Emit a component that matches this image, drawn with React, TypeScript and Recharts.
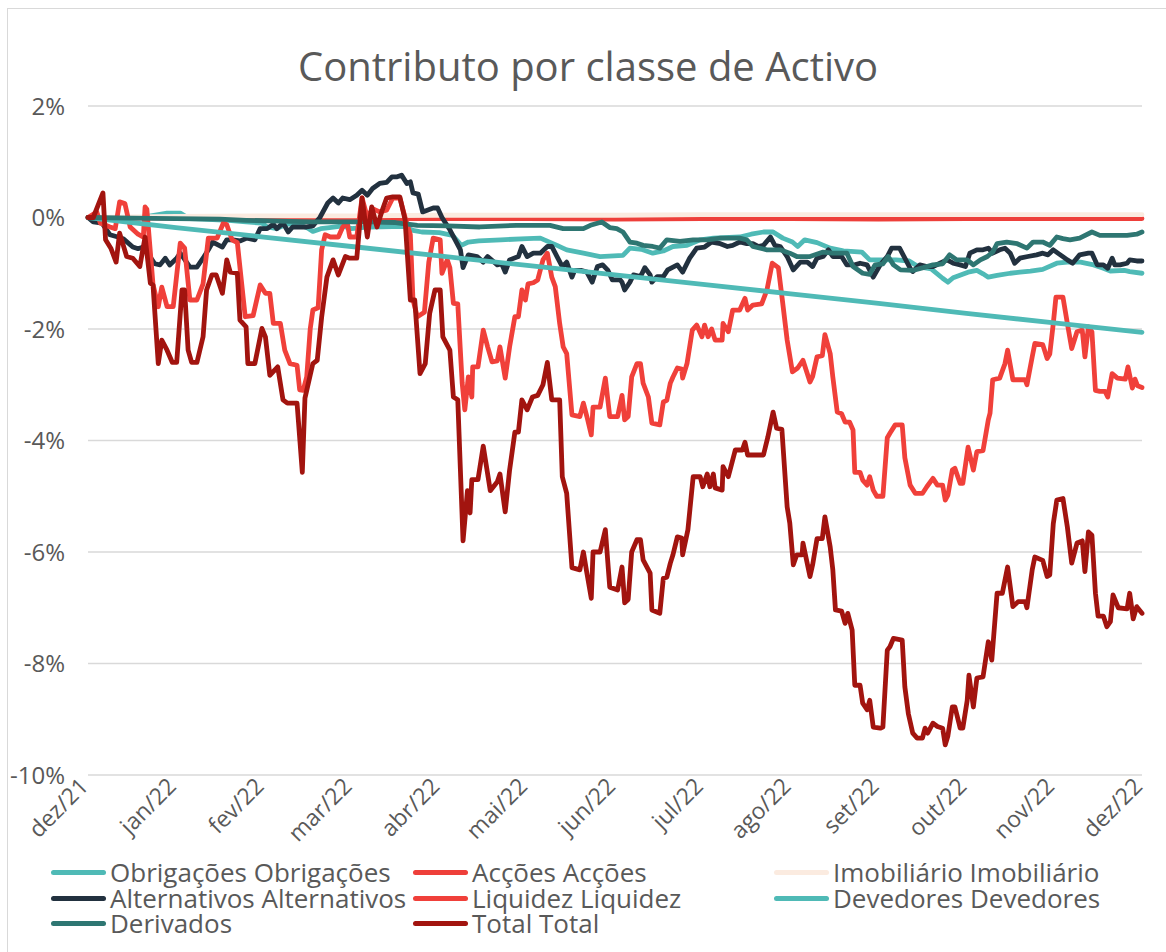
import { LineChart, Line, XAxis, YAxis, CartesianGrid } from "recharts";

// x = months since end of Dec 2021, y = contribution in %
const monthLabels = ["dez/21", "jan/22", "fev/22", "mar/22", "abr/22", "mai/22", "jun/22", "jul/22", "ago/22", "set/22", "out/22", "nov/22", "dez/22"];
const monthTicks = [0, 1, 2, 3, 4, 5, 6, 7, 8, 9, 10, 11, 12];
const yTicks = [-10, -8, -6, -4, -2, 0, 2];

const obrigacoes: [number, number][] = [
  [0, 0], [0.1, -0.02], [0.3, -0.03], [0.6, 0], [0.9, 0.08], [1.05, 0.08], [1.15, -0.02], [1.3, -0.03], [1.6, -0.05], [1.8, -0.08],
  [1.98, -0.1], [2.04, -0.17], [2.15, -0.2], [2.26, -0.12], [2.4, -0.12], [2.5, -0.19], [2.56, -0.25], [2.65, -0.2], [2.75, -0.18], [2.9, -0.15],
  [3.0, -0.2], [3.2, -0.17], [3.6, -0.16], [3.7, -0.23], [3.8, -0.26], [4.0, -0.27], [4.15, -0.32], [4.25, -0.5], [4.33, -0.44], [4.45, -0.42],
  [4.7, -0.4], [5.0, -0.38], [5.15, -0.37], [5.34, -0.5], [5.45, -0.58], [5.64, -0.64], [5.83, -0.7], [6.09, -0.68], [6.17, -0.55], [6.3, -0.57],
  [6.43, -0.64], [6.55, -0.6], [6.66, -0.52], [6.82, -0.5], [6.97, -0.4], [7.12, -0.37], [7.42, -0.35], [7.55, -0.3], [7.69, -0.26], [7.8, -0.26],
  [7.91, -0.37], [8.02, -0.44], [8.08, -0.52], [8.16, -0.4], [8.3, -0.45], [8.45, -0.55], [8.6, -0.6], [8.81, -0.62], [8.9, -0.76], [9.2, -0.76],
  [9.35, -0.78], [9.45, -0.88], [9.6, -0.92], [9.73, -1.09], [9.79, -1.16], [9.85, -1.08], [10.02, -0.98], [10.12, -0.95], [10.19, -1.01], [10.25, -1.07],
  [10.35, -1.04], [10.5, -1.0], [10.61, -0.98], [10.73, -0.96], [10.87, -0.93], [11.03, -0.82], [11.15, -0.8], [11.3, -0.8], [11.45, -0.85], [11.56, -0.91],
  [11.64, -0.96], [11.8, -0.95], [11.86, -0.97], [12, -1.0],
];

const accoes: [number, number][] = [
  [0, 0], [1, -0.01], [2, -0.01], [3, -0.02], [4, -0.02], [5, -0.02], [6, -0.03], [7, -0.02], [8, -0.02], [9, -0.03], [10, -0.02], [11, -0.02], [12, -0.02],
];

const imobiliario: [number, number][] = [
  [0, 0], [1, 0.02], [2, 0.03], [3, 0.03], [4, 0.04], [5, 0.04], [6, 0.04], [7, 0.05], [8, 0.05], [9, 0.05], [10, 0.05], [11, 0.05], [12, 0.05],
];

const alternativos: [number, number][] = [
  [0, 0], [0.06, -0.08], [0.16, -0.1], [0.25, -0.31], [0.34, -0.35], [0.4, -0.38], [0.51, -0.53], [0.57, -0.56], [0.63, -0.53], [0.68, -0.64],
  [0.76, -0.83], [0.82, -0.85], [0.88, -0.73], [0.93, -0.85], [1.01, -0.73], [1.05, -0.64], [1.1, -0.75], [1.16, -0.89], [1.24, -0.89], [1.31, -0.73],
  [1.37, -0.58], [1.42, -0.44], [1.53, -0.53], [1.58, -0.4], [1.65, -0.4], [1.73, -0.42], [1.81, -0.37], [1.9, -0.4], [1.96, -0.2], [2.04, -0.2],
  [2.11, -0.12], [2.15, -0.2], [2.22, -0.1], [2.28, -0.26], [2.33, -0.17], [2.49, -0.17], [2.56, -0.15], [2.64, 0], [2.73, 0.26], [2.79, 0.35],
  [2.85, 0.26], [2.9, 0.35], [2.98, 0.32], [3.06, 0.4], [3.12, 0.49], [3.18, 0.4], [3.24, 0.52], [3.32, 0.61], [3.4, 0.63], [3.46, 0.73],
  [3.52, 0.73], [3.57, 0.76], [3.63, 0.61], [3.67, 0.64], [3.7, 0.44], [3.76, 0.42], [3.81, 0.1], [3.93, 0.17], [3.98, 0.17], [4.03, 0],
  [4.12, -0.22], [4.18, -0.4], [4.24, -0.58], [4.27, -0.9], [4.33, -0.67], [4.43, -0.7], [4.5, -0.8], [4.55, -0.7], [4.66, -0.85], [4.71, -0.83],
  [4.75, -0.98], [4.8, -0.76], [4.9, -0.7], [4.94, -0.52], [5.0, -0.7], [5.07, -0.64], [5.15, -0.64], [5.23, -0.52], [5.28, -0.52], [5.34, -0.7],
  [5.4, -0.88], [5.45, -0.8], [5.51, -1.07], [5.54, -0.95], [5.62, -0.95], [5.68, -0.98], [5.74, -1.16], [5.8, -0.88], [5.86, -0.85], [5.92, -0.95],
  [5.97, -1.12], [6.06, -1.12], [6.08, -1.16], [6.11, -1.3], [6.17, -1.16], [6.21, -1.03], [6.29, -1.06], [6.34, -0.9], [6.4, -1.03], [6.42, -1.16],
  [6.48, -1.06], [6.55, -1.06], [6.6, -0.94], [6.71, -0.85], [6.77, -0.98], [6.85, -0.73], [6.93, -0.55], [7.02, -0.53], [7.1, -0.44], [7.2, -0.47],
  [7.28, -0.52], [7.34, -0.5], [7.42, -0.44], [7.5, -0.47], [7.57, -0.47], [7.63, -0.52], [7.69, -0.5], [7.77, -0.35], [7.82, -0.5], [7.88, -0.52],
  [7.96, -0.7], [8.03, -0.94], [8.11, -0.8], [8.19, -0.8], [8.25, -0.88], [8.3, -0.73], [8.37, -0.7], [8.43, -0.58], [8.48, -0.7], [8.58, -0.7],
  [8.64, -0.85], [8.73, -0.85], [8.79, -0.82], [8.87, -0.85], [8.94, -1.07], [9.02, -0.85], [9.1, -0.7], [9.15, -0.55], [9.24, -0.55], [9.3, -0.73],
  [9.36, -0.91], [9.39, -0.97], [9.47, -0.85], [9.55, -0.88], [9.62, -0.88], [9.7, -0.82], [9.78, -0.76], [9.85, -0.82], [9.93, -0.85], [9.99, -0.88],
  [10.04, -0.64], [10.12, -0.58], [10.19, -0.58], [10.25, -0.55], [10.3, -0.64], [10.38, -0.58], [10.44, -0.55], [10.5, -0.64], [10.55, -0.82], [10.61, -0.73],
  [10.7, -0.7], [10.8, -0.67], [10.87, -0.64], [10.93, -0.67], [10.99, -0.58], [11.07, -0.67], [11.15, -0.76], [11.21, -0.82], [11.29, -0.67], [11.39, -0.64],
  [11.43, -0.64], [11.49, -0.85], [11.56, -0.85], [11.61, -0.91], [11.66, -0.73], [11.69, -0.85], [11.75, -0.85], [11.83, -0.82], [11.86, -0.76], [11.94, -0.78],
  [12, -0.78],
];

const liquidez: [number, number][] = [
  [0, 0], [0.1, 0.1], [0.14, -0.1], [0.25, -0.17], [0.31, -0.2], [0.36, 0.28], [0.42, 0.25], [0.48, -0.17], [0.57, -0.3], [0.63, -0.35],
  [0.65, 0.19], [0.67, 0.15], [0.74, -1.2], [0.8, -1.6], [0.84, -1.25], [0.9, -1.6], [0.97, -1.6], [1.05, -0.46], [1.1, -0.55], [1.16, -1.48],
  [1.24, -1.48], [1.31, -1.19], [1.37, -0.37], [1.47, -0.37], [1.54, -0.1], [1.58, -0.13], [1.64, -0.4], [1.7, -0.45], [1.75, -1.19], [1.79, -1.78],
  [1.88, -1.76], [1.96, -1.21], [2.02, -1.36], [2.07, -1.36], [2.11, -1.9], [2.19, -1.9], [2.24, -2.38], [2.3, -2.62], [2.38, -2.65], [2.41, -3.09],
  [2.45, -3.1], [2.49, -2.86], [2.53, -2.0], [2.56, -1.66], [2.62, -1.62], [2.66, -0.58], [2.7, -0.31], [2.76, -0.35], [2.85, -0.35], [2.9, -0.17],
  [2.95, -0.08], [2.98, -0.35], [3.06, -0.35], [3.12, 0.35], [3.18, 0], [3.24, 0.16], [3.32, 0.1], [3.4, 0.13], [3.47, 0.35], [3.55, 0.35],
  [3.61, 0], [3.67, -0.31], [3.7, -1.48], [3.75, -1.78], [3.83, -1.7], [3.88, -0.8], [3.93, -0.37], [4.01, -0.4], [4.03, -1.0], [4.09, -0.76],
  [4.12, -0.9], [4.16, -1.54], [4.21, -1.55], [4.26, -2.97], [4.29, -3.45], [4.33, -2.86], [4.37, -3.22], [4.38, -2.68], [4.44, -2.68], [4.5, -2.02],
  [4.55, -2.32], [4.6, -2.59], [4.66, -2.57], [4.69, -2.32], [4.75, -2.88], [4.8, -2.32], [4.86, -1.78], [4.9, -1.78], [4.94, -1.3], [4.98, -1.48],
  [5.01, -1.19], [5.07, -1.17], [5.12, -1.12], [5.18, -0.76], [5.23, -0.64], [5.28, -1.07], [5.32, -1.24], [5.37, -1.9], [5.41, -2.32], [5.45, -2.44],
  [5.51, -3.54], [5.6, -3.57], [5.64, -3.33], [5.68, -3.57], [5.73, -3.9], [5.75, -3.4], [5.83, -3.4], [5.89, -2.88], [5.94, -3.57], [6.03, -3.57],
  [6.08, -3.19], [6.11, -3.63], [6.15, -3.57], [6.19, -2.86], [6.25, -2.62], [6.29, -2.62], [6.32, -2.97], [6.38, -3.22], [6.42, -3.69], [6.51, -3.72],
  [6.55, -3.31], [6.59, -3.28], [6.63, -2.97], [6.66, -2.86], [6.71, -2.7], [6.76, -2.72], [6.77, -2.88], [6.82, -2.62], [6.88, -2.02], [6.93, -1.93],
  [6.99, -2.14], [7.02, -1.93], [7.06, -2.14], [7.1, -2.0], [7.14, -2.2], [7.22, -2.2], [7.23, -1.9], [7.29, -2.05], [7.34, -1.66], [7.42, -1.66],
  [7.48, -1.45], [7.51, -1.66], [7.57, -1.57], [7.67, -1.55], [7.73, -1.3], [7.79, -0.82], [7.86, -0.9], [7.91, -1.54], [7.96, -2.2], [8.02, -2.77],
  [8.08, -2.7], [8.14, -2.56], [8.22, -2.95], [8.25, -2.85], [8.3, -2.5], [8.36, -2.48], [8.39, -2.1], [8.45, -2.44], [8.48, -2.86], [8.53, -3.49],
  [8.58, -3.52], [8.62, -3.67], [8.67, -3.67], [8.71, -3.81], [8.73, -4.57], [8.79, -4.57], [8.82, -4.71], [8.87, -4.8], [8.9, -4.65], [8.94, -4.89],
  [8.98, -5.0], [9.05, -5.0], [9.1, -3.95], [9.13, -3.87], [9.19, -3.72], [9.27, -3.72], [9.3, -4.31], [9.36, -4.8], [9.42, -4.95], [9.5, -4.95],
  [9.55, -4.83], [9.62, -4.68], [9.67, -4.8], [9.73, -4.8], [9.76, -5.07], [9.79, -4.98], [9.84, -4.53], [9.87, -4.5], [9.93, -4.77], [9.96, -4.77],
  [10.02, -4.12], [10.08, -4.53], [10.12, -4.2], [10.19, -4.18], [10.25, -3.63], [10.27, -3.51], [10.3, -2.91], [10.38, -2.88], [10.44, -2.62], [10.47, -2.38],
  [10.53, -2.91], [10.67, -2.91], [10.69, -3.0], [10.75, -2.5], [10.78, -2.26], [10.87, -2.28], [10.92, -2.53], [10.95, -2.45], [10.99, -1.9], [11.02, -1.43],
  [11.1, -1.43], [11.15, -1.9], [11.2, -2.35], [11.26, -2.05], [11.32, -2.02], [11.35, -2.5], [11.39, -1.96], [11.43, -2.05], [11.47, -3.1], [11.52, -3.12],
  [11.58, -3.12], [11.61, -3.22], [11.66, -2.8], [11.72, -2.88], [11.81, -2.9], [11.84, -2.68], [11.89, -3.06], [11.92, -2.9], [11.95, -3.02], [12, -3.05],
];

const devedores: [number, number][] = [
  [0, 0], [1, -0.18], [2, -0.35], [3, -0.52], [4, -0.69], [5, -0.86], [6, -1.03], [7, -1.2], [8, -1.37], [9, -1.54], [10, -1.72], [11, -1.89], [12, -2.06],
];

const derivados: [number, number][] = [
  [0, 0], [0.5, -0.01], [1, -0.02], [1.5, -0.03], [1.8, -0.05], [2.3, -0.07], [2.56, -0.08], [3.0, -0.08], [3.5, -0.09], [3.75, -0.14],
  [4.09, -0.15], [4.46, -0.17], [4.88, -0.14], [5.26, -0.14], [5.41, -0.2], [5.64, -0.2], [5.72, -0.14], [5.85, -0.08], [5.94, -0.18], [6.02, -0.2],
  [6.09, -0.26], [6.17, -0.44], [6.25, -0.46], [6.32, -0.5], [6.43, -0.52], [6.51, -0.55], [6.59, -0.4], [6.74, -0.43], [6.89, -0.4], [7.05, -0.4],
  [7.2, -0.37], [7.42, -0.37], [7.5, -0.4], [7.57, -0.52], [7.73, -0.58], [7.88, -0.58], [7.99, -0.64], [8.07, -0.7], [8.22, -0.7], [8.37, -0.62],
  [8.48, -0.64], [8.64, -0.64], [8.71, -0.88], [8.82, -1.0], [8.9, -1.02], [8.96, -0.85], [9.05, -0.83], [9.11, -0.7], [9.17, -0.85], [9.25, -0.94],
  [9.39, -0.95], [9.51, -0.9], [9.62, -0.85], [9.73, -0.83], [9.81, -0.67], [9.89, -0.76], [10.01, -0.76], [10.08, -0.85], [10.16, -0.76], [10.24, -0.7],
  [10.3, -0.62], [10.35, -0.47], [10.46, -0.44], [10.58, -0.47], [10.69, -0.55], [10.76, -0.44], [10.87, -0.44], [10.95, -0.5], [11.03, -0.35], [11.1, -0.38],
  [11.18, -0.4], [11.29, -0.37], [11.43, -0.26], [11.52, -0.32], [11.67, -0.32], [11.83, -0.32], [11.94, -0.3], [12, -0.26],
];

const total: [number, number][] = [
  [0, 0], [0.06, 0], [0.17, 0.44], [0.2, -0.4], [0.26, -0.55], [0.32, -0.8], [0.36, -0.28], [0.44, -0.7], [0.51, -0.73], [0.59, -0.88],
  [0.65, -0.35], [0.71, -1.18], [0.74, -1.21], [0.8, -2.62], [0.84, -2.2], [0.9, -2.38], [0.96, -2.6], [1.01, -2.6], [1.07, -1.3], [1.1, -1.3],
  [1.14, -2.38], [1.18, -2.6], [1.24, -2.6], [1.31, -2.14], [1.35, -1.3], [1.41, -1.03], [1.46, -1.03], [1.53, -1.36], [1.58, -0.76], [1.62, -0.98],
  [1.7, -1.0], [1.73, -1.84], [1.8, -1.96], [1.82, -2.62], [1.9, -2.62], [1.98, -1.99], [2.02, -2.14], [2.07, -2.83], [2.16, -2.68], [2.22, -3.27],
  [2.27, -3.33], [2.38, -3.33], [2.44, -4.57], [2.47, -3.24], [2.56, -2.62], [2.61, -2.56], [2.66, -1.79], [2.72, -1.07], [2.79, -0.76], [2.85, -1.03],
  [2.93, -0.7], [2.98, -0.73], [3.06, -0.73], [3.12, 0.35], [3.18, -0.35], [3.23, 0.19], [3.29, -0.17], [3.35, 0.13], [3.4, 0.35], [3.47, 0.37],
  [3.55, 0.37], [3.61, -0.04], [3.67, -1.48], [3.72, -1.48], [3.78, -2.8], [3.84, -2.62], [3.89, -1.72], [3.95, -1.3], [4.01, -1.3], [4.04, -2.14],
  [4.12, -2.38], [4.16, -3.22], [4.21, -3.27], [4.27, -5.8], [4.32, -4.9], [4.35, -5.3], [4.37, -4.7], [4.44, -4.7], [4.5, -4.1], [4.58, -4.9],
  [4.66, -4.74], [4.69, -4.6], [4.75, -5.28], [4.8, -4.53], [4.86, -3.85], [4.9, -3.85], [4.94, -3.27], [5.0, -3.45], [5.06, -3.22], [5.12, -3.19],
  [5.18, -3.0], [5.23, -2.6], [5.28, -3.27], [5.37, -3.27], [5.4, -4.65], [5.45, -4.95], [5.51, -6.28], [5.6, -6.32], [5.64, -6.0], [5.68, -6.38],
  [5.73, -6.83], [5.75, -6.0], [5.83, -6.0], [5.89, -5.6], [5.94, -6.63], [6.03, -6.68], [6.08, -6.27], [6.11, -6.91], [6.15, -6.85], [6.19, -6.0],
  [6.25, -5.78], [6.29, -5.78], [6.32, -6.14], [6.4, -6.38], [6.42, -7.04], [6.51, -7.1], [6.55, -6.47], [6.59, -6.45], [6.63, -6.2], [6.66, -6.05],
  [6.71, -5.73], [6.76, -5.75], [6.77, -6.05], [6.83, -5.6], [6.89, -4.65], [6.97, -4.65], [7.0, -4.83], [7.05, -4.6], [7.08, -4.83], [7.12, -4.6],
  [7.14, -4.85], [7.22, -4.89], [7.23, -4.47], [7.29, -4.65], [7.37, -4.17], [7.45, -4.17], [7.48, -4.03], [7.51, -4.26], [7.69, -4.26], [7.74, -3.94],
  [7.8, -3.49], [7.84, -3.78], [7.9, -3.8], [7.96, -5.19], [7.99, -5.48], [8.03, -6.23], [8.07, -6.05], [8.13, -6.05], [8.14, -5.84], [8.22, -6.44],
  [8.25, -6.23], [8.3, -5.76], [8.36, -5.76], [8.39, -5.37], [8.45, -5.91], [8.48, -6.32], [8.51, -7.04], [8.58, -7.06], [8.62, -7.28], [8.65, -7.1],
  [8.7, -7.4], [8.73, -8.39], [8.79, -8.39], [8.82, -8.71], [8.87, -8.83], [8.9, -8.66], [8.94, -9.14], [9.02, -9.16], [9.05, -9.14], [9.1, -7.76],
  [9.13, -7.7], [9.17, -7.55], [9.27, -7.58], [9.3, -8.42], [9.34, -8.9], [9.39, -9.25], [9.44, -9.34], [9.5, -9.34], [9.53, -9.16], [9.56, -9.25],
  [9.62, -9.07], [9.67, -9.13], [9.73, -9.16], [9.76, -9.46], [9.79, -9.3], [9.84, -8.78], [9.87, -8.78], [9.93, -9.16], [9.96, -9.16], [10.01, -8.66],
  [10.03, -8.21], [10.08, -8.78], [10.12, -8.26], [10.19, -8.24], [10.25, -7.61], [10.29, -7.94], [10.35, -6.74], [10.41, -6.74], [10.47, -6.27], [10.53, -6.98],
  [10.59, -6.89], [10.67, -6.89], [10.69, -7.0], [10.75, -6.32], [10.78, -6.09], [10.87, -6.15], [10.92, -6.44], [10.95, -6.41], [10.99, -5.49], [11.03, -5.07],
  [11.1, -5.04], [11.15, -5.55], [11.2, -6.2], [11.26, -5.84], [11.32, -5.8], [11.35, -6.35], [11.39, -5.64], [11.43, -5.7], [11.47, -6.74], [11.5, -7.15],
  [11.56, -7.15], [11.6, -7.34], [11.64, -7.25], [11.67, -6.77], [11.73, -7.0], [11.83, -7.02], [11.86, -6.74], [11.9, -7.2], [11.94, -6.98], [12, -7.1],
];

const series = [
  { key: "obrigacoes", name: "Obrigações Obrigações", color: "#4FBAB6", points: obrigacoes },
  { key: "accoes", name: "Acções Acções", color: "#EE3F3A", points: accoes },
  { key: "imobiliario", name: "Imobiliário Imobiliário", color: "#FBEBE0", points: imobiliario },
  { key: "alternativos", name: "Alternativos Alternativos", color: "#22313F", points: alternativos },
  { key: "liquidez", name: "Liquidez Liquidez", color: "#F0403A", points: liquidez },
  { key: "devedores", name: "Devedores Devedores", color: "#4FBAB6", points: devedores },
  { key: "derivados", name: "Derivados", color: "#2E7672", points: derivados },
  { key: "total", name: "Total Total", color: "#A2140F", points: total },
];

const FONT = "'Open Sans', sans-serif";
const TEXT = "#595959";

function MonthTick({ x, y, payload }: any) {
  return (
    <g transform={`translate(${x - 4},${y + 1})`}>
      <text textAnchor="end" dy="0.35em" transform="rotate(-45)" fill={TEXT} fontSize={23} fontFamily={FONT}>
        {monthLabels[payload.value]}
      </text>
    </g>
  );
}

const legendCols = [51, 413, 774];

export default function App() {
  return (
    <div style={{ position: "relative", width: 1166, height: 952, overflow: "hidden", background: "#fff", fontFamily: FONT }}>
      <style>{"body{margin:0}"}</style>
      <div style={{ position: "absolute", left: 7, top: 8, width: 1200, height: 1000, border: "1.5px solid #D9D9D9" }} />
      <div style={{ position: "absolute", left: 0, top: 46, width: 1176, textAlign: "center", fontSize: 40, lineHeight: "40px", color: TEXT }}>
        Contributo por classe de Activo
      </div>
      <div style={{ position: "absolute", left: 0, top: 0 }}>
        <LineChart width={1166} height={952} margin={{ top: 106, right: 24, bottom: 0, left: 0 }}>
          <CartesianGrid vertical={false} stroke="#D9D9D9" strokeWidth={1.5} />
          <XAxis
            dataKey="t"
            type="number"
            domain={[0, 12]}
            ticks={monthTicks}
            interval={0}
            height={177}
            axisLine={false}
            tickLine={false}
            tickMargin={0}
            tick={<MonthTick />}
          />
          <YAxis
            type="number"
            domain={[-10, 2]}
            ticks={yTicks}
            width={88}
            axisLine={false}
            tickLine={false}
            tickMargin={17}
            tickFormatter={(v: number) => `${v}%`}
            tick={{ fill: TEXT, fontSize: 24, fontFamily: FONT }}
          />
          {series.map((s) => (
            <Line
              key={s.key}
              data={s.points.map(([t, v]) => ({ t, v }))}
              dataKey="v"
              name={s.name}
              type="linear"
              stroke={s.color}
              strokeWidth={4.8}
              strokeLinejoin="round"
              strokeLinecap="round"
              dot={false}
              activeDot={false}
              isAnimationActive={false}
            />
          ))}
        </LineChart>
      </div>
      {series.map((s, i) => (
        <div
          key={s.key}
          style={{
            position: "absolute",
            left: legendCols[i % 3],
            top: 860 + Math.floor(i / 3) * 25.5,
            height: 25,
            lineHeight: "25px",
            display: "flex",
            alignItems: "center",
            fontSize: 26,
            color: TEXT,
            whiteSpace: "nowrap",
          }}
        >
          <span style={{ display: "inline-block", width: 55, height: 5, borderRadius: 3, background: s.color, marginRight: 4 }} />
          <span style={{ lineHeight: "25px", height: 25, display: "inline-block" }}>{s.name}</span>
        </div>
      ))}
    </div>
  );
}
